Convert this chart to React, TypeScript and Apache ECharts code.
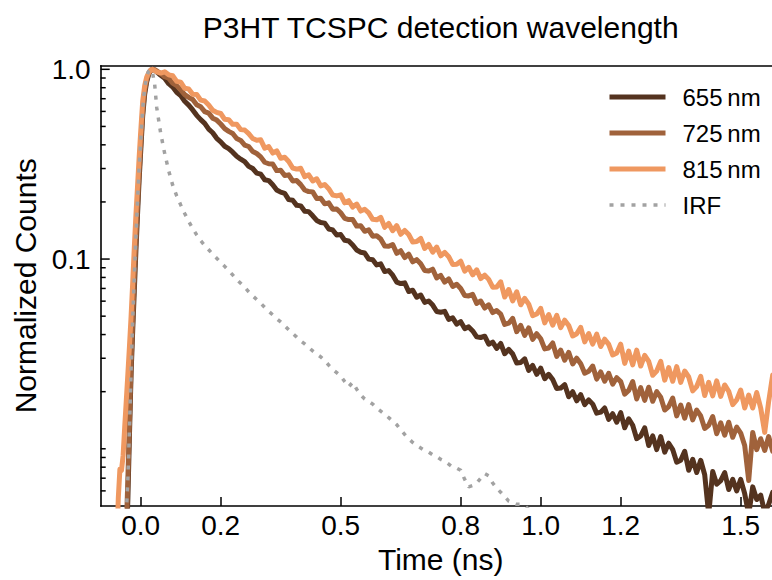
import React, { useEffect, useRef } from "react";
import * as echarts from "echarts";

const timeNs = [
  -0.1, -0.06, -0.056, -0.052, -0.048, -0.044, -0.04, -0.036, -0.032, -0.028,
  -0.024, -0.02, -0.016, -0.012, -0.008, -0.004, 0, 0.005, 0.01, 0.015,
  0.02, 0.025, 0.03, 0.035, 0.04, 0.05,
  0.06, 0.07, 0.08, 0.09, 0.1, 0.11, 0.12, 0.13, 0.14, 0.15,
  0.16, 0.17, 0.18, 0.19, 0.2, 0.21, 0.22, 0.23, 0.24, 0.25,
  0.26, 0.27, 0.28, 0.29, 0.3, 0.31, 0.32, 0.33, 0.34, 0.35,
  0.36, 0.37, 0.38, 0.39, 0.4, 0.41, 0.42, 0.43, 0.44, 0.45,
  0.46, 0.47, 0.48, 0.49, 0.5, 0.51, 0.52, 0.53, 0.54, 0.55,
  0.56, 0.57, 0.58, 0.59, 0.6, 0.61, 0.62, 0.63, 0.64, 0.65,
  0.66, 0.67, 0.68, 0.69, 0.7, 0.71, 0.72, 0.73, 0.74, 0.75,
  0.76, 0.77, 0.78, 0.79, 0.8, 0.81, 0.82, 0.83, 0.84, 0.85,
  0.86, 0.87, 0.88, 0.89, 0.9, 0.91, 0.92, 0.93, 0.94, 0.95,
  0.96, 0.97, 0.98, 0.99, 1.0, 1.01, 1.02, 1.03, 1.04, 1.05,
  1.06, 1.07, 1.08, 1.09, 1.1, 1.11, 1.12, 1.13, 1.14, 1.15,
  1.16, 1.17, 1.18, 1.19, 1.2, 1.21, 1.22, 1.23, 1.24, 1.25,
  1.26, 1.27, 1.28, 1.29, 1.3, 1.31, 1.32, 1.33, 1.34, 1.35,
  1.36, 1.37, 1.38, 1.39, 1.4, 1.41, 1.42, 1.43, 1.44, 1.45,
  1.46, 1.47, 1.48, 1.49, 1.5, 1.51, 1.52, 1.53, 1.54, 1.55,
  1.56, 1.57, 1.58, 1.59, 1.6,
];

const counts655 = [
  0.001, 0.001, 0.001, 0.001, 0.001, 0.0012, 0.0018, 0.003, 0.0055, 0.012,
  0.025, 0.042, 0.068, 0.11, 0.17, 0.26, 0.37, 0.57, 0.74, 0.86,
  0.94, 0.985, 1.0, 0.99, 0.97, 0.93,
  0.897, 0.84, 0.807, 0.757, 0.727, 0.679, 0.648, 0.611, 0.572, 0.543,
  0.519, 0.484, 0.463, 0.433, 0.415, 0.393, 0.382, 0.366, 0.348, 0.336,
  0.326, 0.308, 0.3, 0.284, 0.2805, 0.2618, 0.2591, 0.2465, 0.2313, 0.2252,
  0.2219, 0.2058, 0.204, 0.1919, 0.1907, 0.1788, 0.1778, 0.169, 0.1597, 0.1557,
  0.1547, 0.1441, 0.1424, 0.1338, 0.1346, 0.1255, 0.1245, 0.1187, 0.1115, 0.1087,
  0.1076, 0.0999, 0.0992, 0.0931, 0.0944, 0.0859, 0.0869, 0.0822, 0.0756, 0.0743,
  0.0749, 0.0674, 0.0685, 0.0629, 0.0646, 0.0591, 0.0601, 0.0572, 0.0529, 0.0524,
  0.053, 0.0481, 0.049, 0.0454, 0.0468, 0.043, 0.0439, 0.0418, 0.0389, 0.0386,
  0.0392, 0.0356, 0.0365, 0.0338, 0.0359, 0.0317, 0.0334, 0.0316, 0.0283, 0.0285,
  0.0298, 0.0259, 0.0275, 0.0247, 0.0266, 0.0234, 0.0247, 0.0232, 0.0208, 0.0209,
  0.0218, 0.0188, 0.02, 0.0179, 0.0193, 0.0171, 0.0181, 0.0172, 0.0154, 0.0156,
  0.0164, 0.0143, 0.0153, 0.0138, 0.0155, 0.0129, 0.0144, 0.0133, 0.0113, 0.0117,
  0.0129, 0.0104, 0.0117, 0.0099, 0.0116, 0.0096, 0.0107, 0.0099, 0.0085, 0.0087,
  0.0097, 0.0077, 0.0088, 0.0075, 0.0087, 0.0073, 0.0045, 0.0076, 0.0065, 0.0068,
  0.0075, 0.0061, 0.0069, 0.006, 0.0069, 0.0058, 0.0045, 0.0063, 0.0054, 0.0057,
  0.0046, 0.0051, 0.0059, 0.0052, 0.0061,
];

const counts725 = [
  0.001, 0.001, 0.001, 0.001, 0.0012, 0.0015, 0.0022, 0.0038, 0.007, 0.014,
  0.028, 0.048, 0.08, 0.125, 0.19, 0.28, 0.4, 0.6, 0.77, 0.88,
  0.95, 0.99, 1.0, 0.995, 0.98, 0.95,
  0.914, 0.898, 0.845, 0.821, 0.779, 0.736, 0.712, 0.693, 0.65, 0.635,
  0.599, 0.588, 0.553, 0.54, 0.515, 0.487, 0.471, 0.459, 0.432, 0.422,
  0.399, 0.392, 0.369, 0.36, 0.3456, 0.3237, 0.3178, 0.317, 0.2925, 0.2936,
  0.2754, 0.2778, 0.2581, 0.2591, 0.2468, 0.2311, 0.2267, 0.226, 0.2087, 0.2091,
  0.1955, 0.1978, 0.1832, 0.1836, 0.1753, 0.1638, 0.1614, 0.1616, 0.1492, 0.1499,
  0.1401, 0.1425, 0.132, 0.1326, 0.1275, 0.1171, 0.1167, 0.1192, 0.1072, 0.1106,
  0.1018, 0.1062, 0.0967, 0.0993, 0.0944, 0.087, 0.0865, 0.0884, 0.0795, 0.082,
  0.0755, 0.0787, 0.0717, 0.0736, 0.07, 0.0643, 0.0639, 0.0651, 0.0584, 0.0601,
  0.0552, 0.0574, 0.0522, 0.0535, 0.0512, 0.0452, 0.0459, 0.0487, 0.0414, 0.0447,
  0.0396, 0.0434, 0.0377, 0.0404, 0.038, 0.0336, 0.034, 0.0361, 0.0307, 0.0331,
  0.0293, 0.0322, 0.028, 0.03, 0.0281, 0.025, 0.0256, 0.0273, 0.0233, 0.0254,
  0.0227, 0.025, 0.0219, 0.0237, 0.0226, 0.0194, 0.0203, 0.0226, 0.0183, 0.021,
  0.018, 0.0211, 0.0178, 0.02, 0.0187, 0.016, 0.0167, 0.0185, 0.0149, 0.017,
  0.0145, 0.0171, 0.0142, 0.016, 0.0149, 0.0128, 0.0133, 0.0148, 0.012, 0.0137,
  0.0118, 0.0138, 0.0115, 0.013, 0.0121, 0.0104, 0.0068, 0.0122, 0.0099, 0.0113,
  0.0098, 0.0116, 0.0097, 0.011, 0.0103,
];

const counts815 = [
  0.001, 0.003, 0.0055, 0.0078, 0.0077, 0.0092, 0.013, 0.018, 0.025, 0.035,
  0.05, 0.075, 0.115, 0.17, 0.24, 0.34, 0.47, 0.68, 0.82, 0.91,
  0.96, 0.99, 1.0, 0.985, 0.97, 0.955,
  0.97, 0.935, 0.925, 0.864, 0.856, 0.794, 0.788, 0.739, 0.737, 0.688,
  0.681, 0.649, 0.609, 0.593, 0.585, 0.545, 0.543, 0.513, 0.514, 0.481,
  0.479, 0.458, 0.432, 0.423, 0.425, 0.384, 0.392, 0.362, 0.372, 0.34,
  0.344, 0.327, 0.302, 0.298, 0.301, 0.272, 0.278, 0.258, 0.265, 0.243,
  0.247, 0.235, 0.2175, 0.2152, 0.218, 0.198, 0.203, 0.188, 0.195, 0.179,
  0.183, 0.175, 0.162, 0.161, 0.166, 0.147, 0.154, 0.141, 0.15, 0.135,
  0.1415, 0.1347, 0.123, 0.1237, 0.1285, 0.1137, 0.1193, 0.1087, 0.1157, 0.104,
  0.1084, 0.1029, 0.0937, 0.094, 0.0975, 0.0863, 0.0905, 0.0825, 0.0878, 0.0789,
  0.0823, 0.0781, 0.0711, 0.0713, 0.0759, 0.0631, 0.0691, 0.0602, 0.0672, 0.0574,
  0.062, 0.0579, 0.0503, 0.0513, 0.055, 0.0461, 0.051, 0.0448, 0.0505, 0.0435,
  0.0476, 0.0447, 0.0393, 0.0404, 0.0436, 0.0366, 0.0405, 0.0356, 0.0402, 0.0346,
  0.0378, 0.0355, 0.0312, 0.032, 0.0356, 0.0282, 0.0327, 0.0277, 0.0331, 0.0273,
  0.0311, 0.0289, 0.0244, 0.0257, 0.0289, 0.023, 0.0268, 0.0227, 0.0271, 0.0224,
  0.0257, 0.0239, 0.0202, 0.0213, 0.0241, 0.0191, 0.0224, 0.019, 0.0228, 0.0189,
  0.0217, 0.0201, 0.0171, 0.0181, 0.0204, 0.0164, 0.0192, 0.0164, 0.0198, 0.0164,
  0.0122, 0.0178, 0.0245, 0.0161, 0.0182,
];

const countsIRF = [
  0.001, 0.001, 0.001, 0.0012, 0.0015, 0.002, 0.003, 0.0045, 0.007, 0.013,
  0.026, 0.048, 0.08, 0.13, 0.2, 0.3, 0.42, 0.62, 0.8, 0.92,
  0.98, 1.0, 0.95, 0.83, 0.63, 0.46,
  0.36, 0.292, 0.245, 0.215, 0.193, 0.174, 0.158, 0.145, 0.134, 0.125,
  0.118, 0.112, 0.106, 0.101, 0.096, 0.0915, 0.087, 0.0825, 0.078, 0.0745,
  0.071, 0.0672, 0.064, 0.0612, 0.0585, 0.0556, 0.053, 0.0508, 0.0485, 0.0466,
  0.0445, 0.0424, 0.0405, 0.0388, 0.037, 0.0357, 0.0342, 0.0328, 0.0316, 0.0305,
  0.0292, 0.0276, 0.0262, 0.0252, 0.0242, 0.0226, 0.0212, 0.0224, 0.0206, 0.0192,
  0.0183, 0.0178, 0.0172, 0.0164, 0.0158, 0.0152, 0.0146, 0.014, 0.0134, 0.0126,
  0.0119, 0.0113, 0.0108, 0.0104, 0.0101, 0.0098, 0.0096, 0.0093, 0.0091, 0.0088,
  0.0086, 0.0083, 0.008, 0.0079, 0.0077, 0.0069, 0.0063, 0.0064, 0.0066, 0.007,
  0.0074, 0.0072, 0.0066, 0.0062, 0.0059, 0.0056, 0.0053, 0.0052, 0.0051, 0.0051,
  0.005, 0.0048, 0.0046, 0.0044, 0.0042,
];

const seriesNames = ["655\u2009nm", "725\u2009nm", "815\u2009nm", "IRF"];
const xTickValues = [0, 0.2, 0.5, 0.8, 1.0, 1.2, 1.5];
const yMajorTicks = [0.1, 1];
const yMinorTicks = [
  0.006, 0.007, 0.008, 0.009, 0.01, 0.02, 0.03, 0.04, 0.05, 0.06, 0.07, 0.08,
  0.09, 0.2, 0.3, 0.4, 0.5, 0.6, 0.7, 0.8, 0.9,
];

const FONT = '"Liberation Sans", Arial, Helvetica, sans-serif';
const X_MIN = -0.1;
const X_MAX = 1.6;

function pairs(vals: (number | null)[]) {
  const out: [number, number][] = [];
  vals.forEach((v, i) => {
    if (v !== null && v !== undefined) out.push([timeNs[i], v]);
  });
  return out;
}

export default function App() {
  const ref = useRef<HTMLDivElement>(null);

  useEffect(() => {
    if (!ref.current) return;
    const chart = echarts.init(ref.current, null, { renderer: "svg" });
    const colors = ["#54331f", "#a0623b", "#ef9860", "#a2a2a2"];
    const dataSets = [counts655, counts725, counts815, countsIRF];
    const irfLine = { width: 3.5, type: [4, 7], cap: "butt" };
    const solidLine = { width: 5, join: "round" };

    const lineSeries = dataSets.map((vals, i) => ({
      name: seriesNames[i],
      type: "line",
      data: pairs(vals),
      symbol: "none",
      showSymbol: false,
      clip: true,
      color: colors[i],
      itemStyle: { color: colors[i] },
      lineStyle: { color: colors[i], ...(i === 3 ? irfLine : solidLine) },
      z: 2 + i,
    }));

    const tickData = yMinorTicks.concat(yMajorTicks).map((v) => [X_MIN, v]);

    chart.setOption({
      animation: false,
      backgroundColor: "#ffffff",
      textStyle: { fontFamily: FONT },
      graphic: [
        {
          type: "text",
          x: 440.7,
          y: 27,
          style: {
            text: "P3HT TCSPC detection wavelength",
            font: `30px ${FONT}`,
            fill: "#000",
            textAlign: "center",
            textVerticalAlign: "middle",
          },
        },
      ],
      grid: { left: 100.7, top: 65.7, width: 680, height: 440.2 },
      legend: {
        orient: "vertical",
        left: 607,
        top: 85,
        padding: 0,
        itemWidth: 56,
        itemHeight: 14,
        itemGap: 12,
        data: seriesNames.map((name, i) => ({
          name,
          lineStyle: {
            color: colors[i],
            ...(i === 3 ? irfLine : solidLine),
          },
        })),
        itemStyle: { opacity: 0 },
        textStyle: {
          fontSize: 24,
          lineHeight: 24,
          color: "#000",
          fontFamily: FONT,
          padding: [0, 0, 0, 12],
        },
      },
      xAxis: [
        {
          type: "value",
          min: X_MIN,
          max: X_MAX,
          name: "Time (ns)",
          nameLocation: "middle",
          nameGap: 38,
          nameTextStyle: { fontSize: 30, color: "#000", fontFamily: FONT },
          axisLine: {
            show: true,
            onZero: false,
            lineStyle: { color: "#000", width: 1.6 },
          },
          axisTick: {
            show: true,
            inside: true,
            length: 9,
            customValues: xTickValues,
            lineStyle: { color: "#000", width: 1.5 },
          },
          axisLabel: {
            customValues: xTickValues,
            formatter: (v: number) => v.toFixed(1),
            fontSize: 28,
            color: "#000",
            fontFamily: FONT,
            margin: 6,
          },
          splitLine: { show: false },
        },
        {
          type: "value",
          position: "top",
          min: X_MIN,
          max: X_MAX,
          axisLine: {
            show: true,
            onZero: false,
            lineStyle: { color: "#000", width: 1.6 },
          },
          axisTick: { show: false },
          axisLabel: { show: false },
          splitLine: { show: false },
        },
      ],
      yAxis: {
        type: "log",
        logBase: 10,
        min: 0.005,
        max: 1.045,
        name: "Normalized Counts",
        nameLocation: "middle",
        nameGap: 56,
        nameRotate: 90,
        nameTextStyle: { fontSize: 30, color: "#000", fontFamily: FONT },
        axisLine: {
          show: true,
          onZero: false,
          lineStyle: { color: "#000", width: 1.6 },
        },
        axisTick: { show: false },
        axisLabel: {
          fontSize: 28,
          color: "#000",
          fontFamily: FONT,
          margin: 10,
          showMinLabel: false,
          showMaxLabel: false,
          formatter: (v: number) => {
            if (Math.abs(v - 1) < 1e-6) return "1.0";
            if (Math.abs(v - 0.1) < 1e-7) return "0.1";
            return "";
          },
        },
        splitLine: { show: false },
      },
      series: [
        ...lineSeries,
        {
          type: "custom",
          name: "yTicks",
          coordinateSystem: "cartesian2d",
          xAxisIndex: 0,
          yAxisIndex: 0,
          clip: false,
          silent: true,
          z: 10,
          data: tickData,
          renderItem: (params: any, api: any) => {
            const v = api.value(1);
            const p = api.coord([api.value(0), v]);
            const isMajor = yMajorTicks.some((m) => Math.abs(m - v) < 1e-9);
            const len = isMajor ? 9 : 5;
            return {
              type: "line",
              shape: { x1: p[0], y1: p[1], x2: p[0] + len, y2: p[1] },
              style: { stroke: "#000", lineWidth: 1.5 },
            };
          },
        },
      ],
    });

    return () => chart.dispose();
  }, []);

  return (
    <div
      style={{
        position: "fixed",
        left: 0,
        top: 0,
        width: 772,
        height: 580,
        overflow: "hidden",
        background: "#fff",
      }}
    >
      <div ref={ref} style={{ width: 800, height: 580 }} />
    </div>
  );
}
